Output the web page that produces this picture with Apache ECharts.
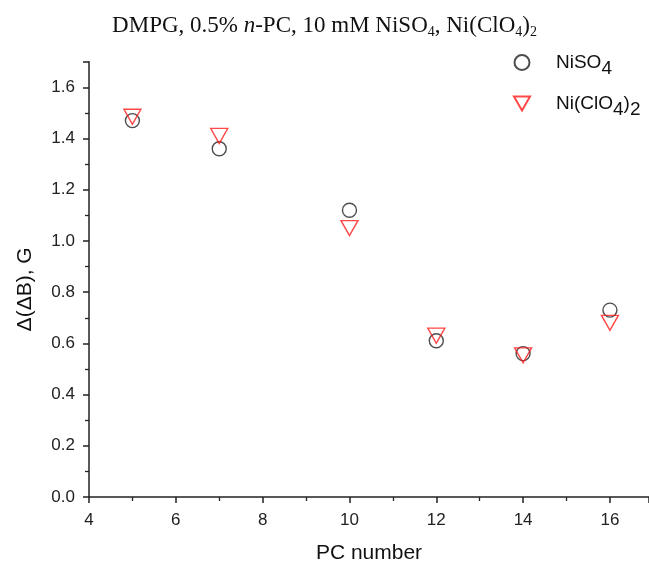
<!DOCTYPE html>
<html>
<head>
<meta charset="utf-8">
<script src="https://cdn.jsdelivr.net/npm/echarts@6/dist/echarts.min.js"></script>
<style>html,body{margin:0;padding:0;background:#fff}#c{width:649px;height:564px}</style>
</head>
<body>
<div id="c"></div>
<script>
const pcNumbers = [5, 7, 10, 12, 14, 16];
const niSO4 = [1.47, 1.36, 1.12, 0.61, 0.56, 0.73];
const niClO4 = [1.485, 1.41, 1.05, 0.63, 0.553, 0.68];
const xTicks = [4, 6, 8, 10, 12, 14, 16];
const yTicks = [0.0, 0.2, 0.4, 0.6, 0.8, 1.0, 1.2, 1.4, 1.6];

const chart = echarts.init(document.getElementById('c'), null, {renderer: 'canvas'});
const downTri = 'path://M0,0 L20,0 L10,17.3 Z';
const axisColor = '#222';
const lab = {fontFamily: 'Liberation Sans', fontSize: 17, color: '#222'};

chart.setOption({
  backgroundColor: '#fff',
  animation: false,
  title: {
    text: '{a|DMPG, 0.5% }{i|n}{a|-PC, 10 mM NiSO}{s|4}{a|, Ni(ClO}{s|4}{a|)}{s|2}',
    left: 'center',
    top: 8,
    textStyle: {
      fontWeight: 'normal',
      rich: {
        a: {fontFamily: 'Liberation Serif', fontSize: 23, fontWeight: 'normal', color: '#111'},
        i: {fontFamily: 'Liberation Serif', fontSize: 23, fontWeight: 'normal', fontStyle: 'italic', color: '#111'},
        s: {fontFamily: 'Liberation Serif', fontSize: 14, fontWeight: 'normal', color: '#111', padding: [12, 0, 0, 0]}
      }
    }
  },
  legend: {
    orient: 'vertical',
    left: 508,
    top: 48,
    itemGap: 16,
    itemWidth: 16,
    itemHeight: 15,
    selectedMode: false,
    data: ['NiSO4', 'Ni(ClO4)2'],
    formatter: function (n) {
      if (n === 'NiSO4') return '{t|NiSO}{s|4}';
      return '{t|Ni(ClO}{s|4}{t|)}{s|2}';
    },
    textStyle: {
      rich: {
        t: {fontFamily: 'Liberation Sans', fontSize: 19, color: '#111'},
        s: {fontFamily: 'Liberation Sans', fontSize: 19, color: '#111', padding: [12, 0, 0, 0]}
      },
      padding: [0, 0, 0, 21]
    }
  },
  grid: {left: 89, right: 0, top: 61.7, bottom: 67, containLabel: false, outerBoundsMode: 'none'},
  xAxis: {
    type: 'value',
    min: 4, max: 16.9, interval: 2,
    name: 'PC number',
    nameLocation: 'middle',
    nameGap: 46,
    nameTextStyle: {fontFamily: 'Liberation Sans', fontSize: 21, color: '#111'},
    axisLine: {show: true, onZero: false, lineStyle: {color: axisColor, width: 1.5}},
    axisTick: {show: true, inside: false, length: 6, lineStyle: {color: axisColor, width: 1.5}},
    minorTick: {show: true, splitNumber: 2, length: 4, lineStyle: {color: axisColor, width: 1.3}},
    splitLine: {show: false},
    axisLabel: Object.assign({margin: 15, formatter: function (v) {
      return xTicks.indexOf(v) >= 0 ? String(v) : '';
    }}, lab)
  },
  yAxis: {
    type: 'value',
    min: 0, max: 1.7, interval: 0.2,
    name: 'Δ(ΔB), G',
    nameLocation: 'middle',
    nameGap: 53,
    nameTextStyle: {fontFamily: 'Liberation Sans', fontSize: 21, color: '#111', padding: [0, 0, 0, -20]},
    axisLine: {show: true, onZero: false, lineStyle: {color: axisColor, width: 1.5}},
    axisTick: {show: true, inside: false, length: 6, lineStyle: {color: axisColor, width: 1.5}},
    minorTick: {show: true, splitNumber: 2, length: 4, lineStyle: {color: axisColor, width: 1.3}},
    splitLine: {show: false},
    axisLabel: Object.assign({margin: 14, formatter: function (v) {
      const k = yTicks.findIndex(t => Math.abs(t - v) < 1e-6);
      return k >= 0 ? yTicks[k].toFixed(1) : '';
    }}, lab)
  },
  series: [
    {
      name: 'NiSO4',
      type: 'scatter',
      symbol: 'circle',
      symbolSize: 14,
      z: 2,
      itemStyle: {color: 'rgba(0,0,0,0)', borderColor: '#222', borderWidth: 1.4},
      data: pcNumbers.map((x, i) => [x, niSO4[i]])
    },
    {
      name: 'Ni(ClO4)2',
      type: 'scatter',
      symbol: downTri,
      symbolSize: [17, 15],
      z: 3,
      itemStyle: {color: 'rgba(0,0,0,0)', borderColor: '#ff1a1a', borderWidth: 1.4},
      data: pcNumbers.map((x, i) => [x, niClO4[i]])
    }
  ]
});
</script>
</body>
</html>
